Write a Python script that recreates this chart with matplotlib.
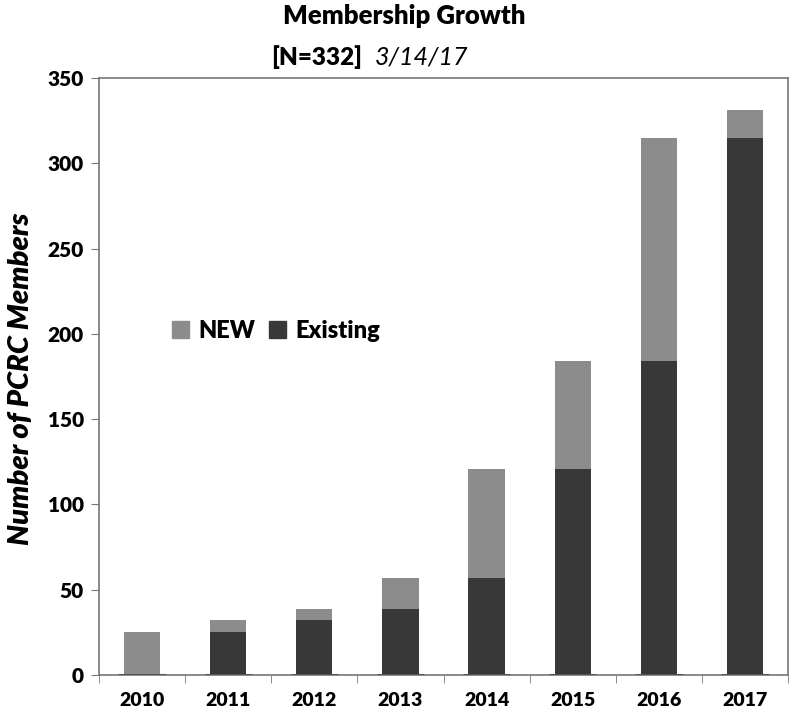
import matplotlib
matplotlib.use("Agg")
from matplotlib import pyplot as plt
from matplotlib.patches import Patch
import numpy as np

years = ["2010", "2011", "2012", "2013", "2014", "2015", "2016", "2017"]
existing = [0, 25, 32, 39, 57, 121, 184, 315]
new = [25, 7, 7, 18, 64, 63, 131, 16]
yticks = [0, 50, 100, 150, 200, 250, 300, 350]

c_new = "#8c8c8c"
c_old = "#383838"

plt.rcParams['font.family'] = ['Lato', 'DejaVu Sans']

fig = plt.figure(figsize=(7.92, 7.11), dpi=100)
ax = fig.add_axes([0.125, 0.0506, 0.87, 0.8396])

x = np.arange(len(years))
w = 0.42
ax.bar(x, existing, width=w, color=c_old, zorder=2)
ax.bar(x, new, width=w, bottom=existing, color=c_new, zorder=2)
# thin dark base under each bar
ax.hlines([0] * len(x), x - 0.275, x + 0.275, color="#555555", lw=2.2, zorder=3)

ax.set_xlim(-0.5, len(years) - 0.5)
ax.set_ylim(0, 350)
ax.set_yticks(yticks)
ax.set_yticklabels([str(v) for v in yticks], fontsize=15, fontweight="heavy")
ax.set_xticks(x)
ax.set_xticklabels(years, fontsize=14, fontweight="heavy")
ax.tick_params(axis="x", which="major", length=0, pad=12)
ax.set_xticks(np.arange(len(years) + 1) - 0.5, minor=True)
ax.tick_params(axis="x", which="minor", length=6, color="#777777", direction="out")
ax.tick_params(axis="y", length=6, color="#777777", direction="out", pad=5)
for s in ax.spines.values():
    s.set_color("#777777")
    s.set_linewidth(1.2)

fig.text(0.511, 0.978, "Membership Growth", ha="center", va="center",
         fontsize=18.5, fontweight="heavy")
fig.text(0.457, 0.920, "[N=332]", ha="right", va="center",
         fontsize=17.5, fontweight="heavy")
fig.text(0.473, 0.920, "3/14/17", ha="left", va="center",
         fontsize=18, style="italic")
fig.text(0.027, 0.468, "Number of PCRC Members", rotation=90, ha="center",
         va="center", fontsize=21, fontweight="heavy", style="italic")

handles = [Patch(color=c_new, label="NEW"), Patch(color=c_old, label="Existing")]
leg = fig.legend(handles=handles, loc="center", bbox_to_anchor=(0.349, 0.535),
                 ncol=2, frameon=False, handlelength=0.7, handleheight=0.7,
                 handletextpad=0.4, columnspacing=0.6, fontsize=17)
for t in leg.get_texts():
    t.set_fontweight("heavy")

fig.savefig("out.png", dpi=100)
